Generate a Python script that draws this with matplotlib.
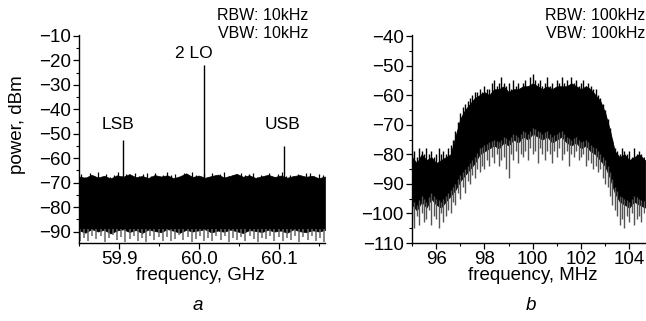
import numpy as np
import matplotlib
matplotlib.use("Agg")
import matplotlib.pyplot as plt
from matplotlib.ticker import MultipleLocator, FormatStrFormatter

plt.rcParams['font.family'] = ['Liberation Sans', 'DejaVu Sans']

# ---------------- Panel a data (GHz, dBm) ----------------
lines_a_freq = [59.905, 60.006, 60.106]
lines_a_peak = [-52.5, -22.0, -55.0]
lines_a_labels = ["LSB", "2 LO", "USB"]

# noise floor envelope (sampled across the sweep)
noise_a_top = [-67.5, -68.0, -66.8, -67.9, -67.2, -68.3, -67.0, -67.6, -66.5, -67.8,
               -67.3, -68.1, -66.9, -67.5, -67.0, -68.2, -67.4, -66.2, -67.7, -67.1,
               -68.0, -67.3, -66.7, -67.9, -67.2, -66.4, -67.6, -67.0, -68.1, -67.4,
               -66.8, -67.7, -67.1, -68.0, -67.3, -66.9, -67.6, -67.2, -68.2, -67.5]
noise_a_bottom = [-89.5, -90.5, -89.0, -90.0, -89.3, -90.8, -89.6, -89.1, -90.2, -89.4,
                  -90.6, -89.2, -89.8, -90.3, -89.0, -89.7, -90.5, -89.3, -90.0, -89.5,
                  -89.1, -90.4, -89.6, -90.1, -89.2, -89.9, -90.6, -89.4, -89.8, -90.2,
                  -89.3, -90.0, -89.6, -90.5, -89.1, -89.9, -90.3, -89.5, -90.0, -89.4]
# upward excursions of the noise
peaks_a_tip = [-66.5, -67.8, -66.0, -67.2, -65.8, -67.5, -66.3, -67.9, -66.8, -65.6,
               -67.1, -66.4, -67.7, -66.0, -67.3, -66.6, -65.9, -67.4, -66.2, -67.8,
               -66.7, -65.7, -67.0, -66.5, -67.6, -66.1, -67.2, -65.8, -66.9, -67.5,
               -66.3, -67.9, -66.0, -67.1, -66.6, -65.5, -67.3, -66.8, -67.7, -66.2,
               -67.0, -66.4, -65.9, -67.5, -66.7, -67.2, -66.0, -67.8, -66.5, -65.8,
               -67.4, -66.9, -67.1, -66.3, -67.6, -66.1, -65.9, -67.3, -66.6, -67.0]
# deep downward excursions of the noise (gray fringe)
fringe_a_depth = [-93.8, -92.5, -94.0, -91.8, -93.2, -92.0, -94.2, -92.8, -91.5, -93.6,
                  -92.2, -94.1, -93.0, -91.9, -93.7, -92.6, -94.3, -91.7, -93.3, -92.4,
                  -93.9, -92.1, -94.0, -92.9, -91.6, -93.5, -92.3, -94.2, -93.1, -91.8,
                  -93.8, -92.7, -94.0, -92.0, -93.4, -91.9, -94.1, -92.5, -93.6, -92.2,
                  -93.9, -91.7, -93.2, -94.3, -92.6, -93.0, -91.8, -93.7, -92.4, -94.0,
                  -92.8, -93.5, -91.9, -94.1, -92.3, -93.3, -92.0, -93.8, -92.7, -94.2]

# ---------------- Panel b data (MHz, dBm) ----------------
freq_b = [95.0, 95.2, 95.4, 95.6, 95.8, 96.0, 96.2, 96.4, 96.6, 96.8,
          97.0, 97.2, 97.4, 97.6, 97.8, 98.0, 98.2, 98.4, 98.6, 98.8,
          99.0, 99.2, 99.4, 99.6, 99.8, 100.0, 100.2, 100.4, 100.6, 100.8,
          101.0, 101.2, 101.4, 101.6, 101.8, 102.0, 102.2, 102.4, 102.6, 102.8,
          103.0, 103.2, 103.4, 103.6, 103.8, 104.0, 104.2, 104.4, 104.65]
top_b = [-81, -83, -80, -82, -81, -83, -82, -81, -80, -74,
         -68, -65, -63, -61, -60, -59, -60, -58, -58, -57,
         -59, -58, -58, -57, -57, -56, -57, -58, -57, -58,
         -57, -57, -57, -56, -57, -58, -57, -58, -60, -62,
         -66, -72, -79, -81, -80, -82, -81, -80, -82]
bottom_b = [-97, -99, -96, -98, -95, -97, -98, -96, -94, -92,
            -89, -87, -85, -83, -80, -79, -78, -77, -78, -76,
            -77, -75, -76, -74, -75, -73, -74, -75, -74, -76,
            -75, -74, -76, -77, -76, -78, -77, -79, -80, -82,
            -84, -88, -93, -96, -97, -98, -96, -97, -98]
# fine-scale excursions every 0.1 MHz from 95.0 to 104.6
low_tip_b = [-102, -105, -101, -104, -100, -103, -102, -99, -104, -101,
             -102, -105, -100, -103, -101, -99, -100, -96, -97, -93,
             -95, -91, -93, -89, -90, -87, -88, -85, -86, -84,
             -85, -82, -84, -81, -83, -80, -84, -82, -81, -85,
             -88, -80, -82, -79, -83, -80, -81, -79, -82, -78,
             -80, -79, -83, -78, -80, -82, -79, -80, -83, -79,
             -81, -78, -82, -80, -79, -84, -80, -81, -79, -82,
             -81, -80, -84, -82, -83, -85, -84, -86, -85, -88,
             -90, -91, -94, -97, -99, -101, -104, -102, -105, -101,
             -103, -100, -104, -102, -101, -103, -100]
high_tip_b = [-80, -79, -81, -78, -79, -80, -78, -80, -79, -81,
              -80, -78, -80, -79, -80, -78, -77, -75, -72, -69,
              -66, -64, -63, -62, -61, -60, -59, -59, -58, -59,
              -57, -58, -58, -56, -55, -57, -56, -54, -56, -57,
              -56, -58, -55, -57, -56, -58, -56, -55, -57, -54,
              -53, -55, -56, -55, -57, -56, -54, -57, -56, -58,
              -55, -56, -54, -56, -55, -57, -54, -56, -55, -57,
              -56, -55, -57, -56, -57, -58, -58, -60, -61, -63,
              -65, -68, -71, -75, -78, -79, -80, -78, -79, -80,
              -79, -81, -78, -80, -79, -80, -81]

W, H = 646, 321
fig = plt.figure(figsize=(W / 100, H / 100), dpi=100)

def px_axes(l, t, r, b):
    return fig.add_axes([l / W, 1 - b / H, (r - l) / W, (b - t) / H])

ax_a = px_axes(79, 35, 325, 243)
ax_b = px_axes(412, 35, 645, 243)

def style(ax):
    for s in ['top', 'right']:
        ax.spines[s].set_visible(False)
    for s in ['left', 'bottom']:
        ax.spines[s].set_linewidth(1.0)
    ax.tick_params(which='major', direction='out', length=4, width=0.9,
                   labelsize=13.5, pad=2)
    ax.tick_params(which='minor', direction='out', length=2.5, width=0.8)

# ----- panel a -----
fa = np.linspace(59.85, 60.157, len(noise_a_top))
ax_a.fill_between(fa, noise_a_bottom, noise_a_top, color='black', lw=0.5, edgecolor='black')
ff = np.linspace(59.851, 60.156, len(fringe_a_depth))
ax_a.vlines(ff, fringe_a_depth, -89.0, color='#666666', lw=1.1)
fp = np.linspace(59.853, 60.154, len(peaks_a_tip))
ax_a.vlines(fp, -69.0, peaks_a_tip, color='black', lw=0.9)
ax_a.vlines(lines_a_freq, -67.5, lines_a_peak, color='black', lw=1.0)
ax_a.set_xlim(59.85, 60.157)
ax_a.set_ylim(-94.7, -9.6)
ax_a.xaxis.set_major_locator(MultipleLocator(0.1))
ax_a.xaxis.set_minor_locator(MultipleLocator(0.05))
ax_a.yaxis.set_minor_locator(MultipleLocator(5))
ax_a.set_yticks(np.arange(-90, -9, 10))
ax_a.xaxis.set_major_formatter(FormatStrFormatter('%.1f'))
style(ax_a)
ax_a.text(59.899, -46.4, lines_a_labels[0], ha='center', va='center', fontsize=12.5)
ax_a.text(59.993, -17.0, lines_a_labels[1], ha='center', va='center', fontsize=12.5)
ax_a.text(60.104, -46.4, lines_a_labels[2], ha='center', va='center', fontsize=12.5)

# ----- panel b -----
ax_b.fill_between(freq_b, bottom_b, top_b, color='black', lw=0.6, edgecolor='black')
fb = np.linspace(95.0, 104.6, len(low_tip_b))
base_low = np.interp(fb, freq_b, bottom_b) + 2
ax_b.vlines(fb, low_tip_b, base_low, color='#555555', lw=1.0)
fb2 = np.linspace(95.0, 104.6, len(high_tip_b))
base_high = np.interp(fb2, freq_b, top_b) - 2
ax_b.vlines(fb2, base_high, high_tip_b, color='black', lw=1.0)
ax_b.set_xlim(95, 104.65)
ax_b.set_ylim(-110, -39.66)
ax_b.xaxis.set_major_locator(MultipleLocator(2))
ax_b.xaxis.set_minor_locator(MultipleLocator(1))
ax_b.yaxis.set_major_locator(MultipleLocator(10))
ax_b.yaxis.set_minor_locator(MultipleLocator(5))
style(ax_b)

# texts
fig.text(18 / W, 1 - 125 / H, "power, dBm", rotation=90, ha='center', va='center', fontsize=13.5)
fig.text(200 / W, 1 - 276 / H, "frequency, GHz", ha='center', va='center', fontsize=13.5)
fig.text(533 / W, 1 - 276 / H, "frequency, MHz", ha='center', va='center', fontsize=13.5)
fig.text(198 / W, 1 - 305 / H, "a", ha='center', va='center', fontsize=13.5, style='italic')
fig.text(531 / W, 1 - 305 / H, "b", ha='center', va='center', fontsize=13.5, style='italic')
fig.text(308 / W, 1 - 16 / H, "RBW: 10kHz", ha='right', va='center', fontsize=11.5)
fig.text(308 / W, 1 - 34 / H, "VBW: 10kHz", ha='right', va='center', fontsize=11.5)
fig.text(645 / W, 1 - 16 / H, "RBW: 100kHz", ha='right', va='center', fontsize=11.5)
fig.text(645 / W, 1 - 34 / H, "VBW: 100kHz", ha='right', va='center', fontsize=11.5)

fig.savefig("out.png", dpi=100)
